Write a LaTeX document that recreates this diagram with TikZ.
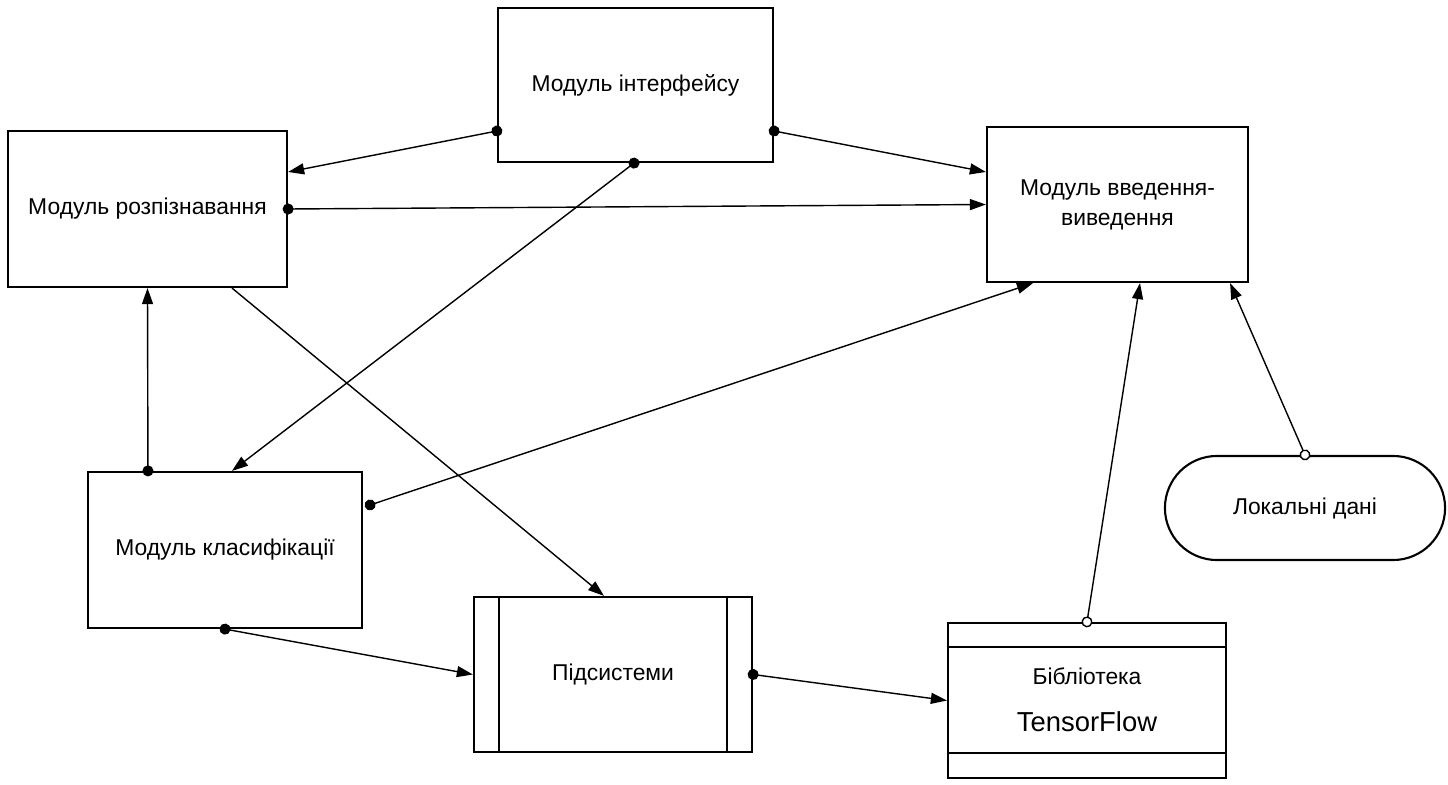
\documentclass[tikz,border=0pt]{standalone}
\usepackage{fontspec}
\setmainfont{Liberation Sans}
\usetikzlibrary{arrows.meta,positioning,calc,shapes.misc}
\tikzset{
  modbox/.style={draw, line width=0.6pt, minimum width=2.76cm, minimum height=1.55cm, inner sep=0pt, font=\fontsize{6.5}{8.5}\selectfont, align=center},
  link/.style={line width=0.4pt, -{Triangle[length=0.16cm,width=0.11cm]}},
  dotlink/.style={link, shorten <=-0.055cm, {Circle[length=0.11cm]}-{Triangle[length=0.16cm,width=0.11cm]}},
  ringlink/.style={link, shorten <=-0.055cm, {Circle[open,length=0.11cm,fill=white]}-{Triangle[length=0.16cm,width=0.11cm]}}
}

\begin{document}
\begin{tikzpicture}[x=0.01cm,y=-0.01cm]
        \useasboundingbox (0,0) rectangle (1448,785);
        % modules
        \node[modbox, minimum width=2.75cm, minimum height=1.54cm] (iface) at (635.5,85) {Модуль інтерфейсу};
        \node[modbox, minimum width=2.79cm, minimum height=1.56cm] (recog) at (147.5,209) {Модуль розпізнавання};
        \node[modbox, minimum width=2.61cm] (io) at (1117.5,204.5) {Модуль введення-\\виведення};
        \node[modbox, minimum width=2.74cm, minimum height=1.56cm] (classif) at (225,550) {Модуль класифікації};
        \node[modbox, minimum width=2.78cm] (subsys) at (613,674.5) {Підсистеми};
        \draw[line width=0.6pt] ([xshift=0.26cm]subsys.north west) -- ([xshift=0.26cm]subsys.south west);
        \draw[line width=0.6pt] ([xshift=-0.26cm]subsys.north east) -- ([xshift=-0.26cm]subsys.south east);
        \node[modbox, minimum width=2.78cm] (lib) at (1087,700.5) {};
        \draw[line width=0.6pt] ([yshift=-0.25cm]lib.north west) -- ([yshift=-0.25cm]lib.north east);
        \draw[line width=0.6pt] ([yshift=0.26cm]lib.south west) -- ([yshift=0.26cm]lib.south east);
        \node[font=\fontsize{6.5}{8}\selectfont] (libname) at ([yshift=0.245cm]lib.center) {Бібліотека};
        \node[font=\fontsize{7.8}{9}\selectfont] (tf) at ([yshift=-0.215cm]lib.center) {TensorFlow};
        \node[modbox, rounded rectangle, minimum width=2.8cm, minimum height=1.04cm] (local) at (1305,508) {Локальні дані};
        % links
        \draw[dotlink] ([yshift=-0.46cm]iface.west) -- ([yshift=0.37cm]recog.east);
        \draw[dotlink] ([yshift=-0.46cm]iface.east) -- ([yshift=0.325cm]io.west);
        \draw[dotlink] ([xshift=-0.015cm]iface.south) -- ([xshift=0.07cm]classif.north);
        \draw[dotlink] (recog.east) -- (io.west);
        \draw[dotlink] ([xshift=-0.77cm]classif.north) -- (recog.south);
        \draw[link] ([xshift=0.845cm]recog.south) -- ([xshift=-0.09cm]subsys.north);
        \draw[dotlink] ([xshift=0.07cm,yshift=0.45cm]classif.east) -- ([xshift=-0.845cm]io.south);
        \draw[dotlink] (classif.south) -- (subsys.west);
        \draw[dotlink] (subsys.east) -- (lib.west);
        \draw[ringlink] (lib.north) -- ([xshift=0.225cm]io.south);
        \draw[ringlink] (local.north) -- ([xshift=1.125cm]io.south);
      \end{tikzpicture}
\end{document}
